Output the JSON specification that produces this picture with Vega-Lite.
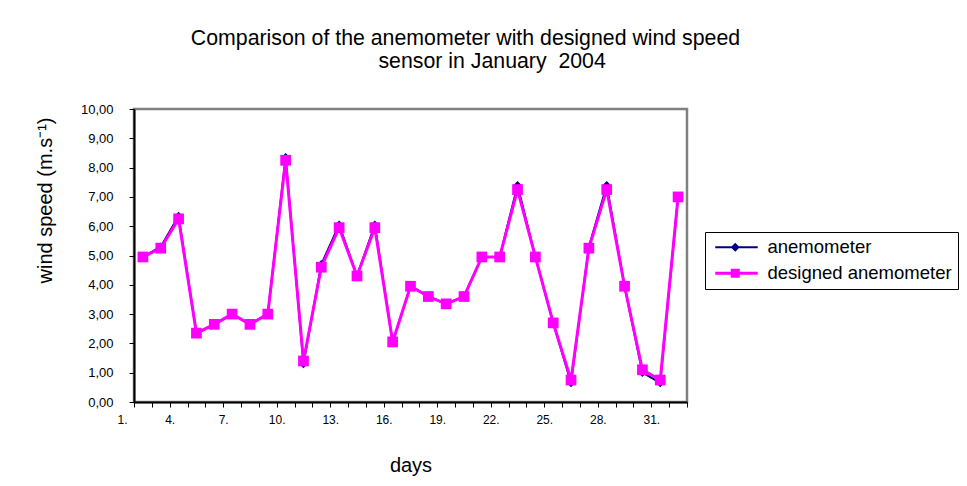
{
  "$schema": "https://vega.github.io/schema/vega-lite/v6.json",
  "width": 553,
  "height": 293,
  "autosize": "none",
  "padding": {"left": 134, "top": 109, "right": 280, "bottom": 84},
  "background": "white",
  "config": {
    "font": "Liberation Sans",
    "view": {"stroke": "#808080", "strokeWidth": 2.5},
    "axis": {"grid": false, "domainColor": "black", "domainWidth": 2, "tickColor": "black", "tickWidth": 1, "labelColor": "black", "titleColor": "black", "titleFontWeight": "normal", "titleFontSize": 20}
  },
  "title": {
    "text": ["Comparison of the anemometer with designed wind speed", "\u200b\u2002\u2002\u2002\u2002\u2002sensor in January\u00a0 2004"],
    "fontSize": 21.3,
    "fontWeight": "normal",
    "color": "black",
    "anchor": "middle",
    "frame": "group",
    "dx": 55,
    "dy": -27,
    "lineHeight": 23
  },
  "data": {
    "values": [
      {"day": 1, "series": "anemometer", "speed": 4.95},
      {"day": 2, "series": "anemometer", "speed": 5.3},
      {"day": 3, "series": "anemometer", "speed": 6.35},
      {"day": 4, "series": "anemometer", "speed": 2.35},
      {"day": 5, "series": "anemometer", "speed": 2.65},
      {"day": 6, "series": "anemometer", "speed": 3.0},
      {"day": 7, "series": "anemometer", "speed": 2.65},
      {"day": 8, "series": "anemometer", "speed": 3.0},
      {"day": 9, "series": "anemometer", "speed": 8.35},
      {"day": 10, "series": "anemometer", "speed": 1.3},
      {"day": 11, "series": "anemometer", "speed": 4.7},
      {"day": 12, "series": "anemometer", "speed": 6.05},
      {"day": 13, "series": "anemometer", "speed": 4.3},
      {"day": 14, "series": "anemometer", "speed": 6.05},
      {"day": 15, "series": "anemometer", "speed": 2.05},
      {"day": 16, "series": "anemometer", "speed": 3.95},
      {"day": 17, "series": "anemometer", "speed": 3.6},
      {"day": 18, "series": "anemometer", "speed": 3.35},
      {"day": 19, "series": "anemometer", "speed": 3.6},
      {"day": 20, "series": "anemometer", "speed": 4.95},
      {"day": 21, "series": "anemometer", "speed": 4.95},
      {"day": 22, "series": "anemometer", "speed": 7.4},
      {"day": 23, "series": "anemometer", "speed": 4.95},
      {"day": 24, "series": "anemometer", "speed": 2.7},
      {"day": 25, "series": "anemometer", "speed": 0.65},
      {"day": 26, "series": "anemometer", "speed": 5.3},
      {"day": 27, "series": "anemometer", "speed": 7.4},
      {"day": 28, "series": "anemometer", "speed": 3.95},
      {"day": 29, "series": "anemometer", "speed": 1.0},
      {"day": 30, "series": "anemometer", "speed": 0.65},
      {"day": 31, "series": "anemometer", "speed": 7.0},
      {"day": 1, "series": "designed anemometer", "speed": 4.95},
      {"day": 2, "series": "designed anemometer", "speed": 5.25},
      {"day": 3, "series": "designed anemometer", "speed": 6.25},
      {"day": 4, "series": "designed anemometer", "speed": 2.35},
      {"day": 5, "series": "designed anemometer", "speed": 2.65},
      {"day": 6, "series": "designed anemometer", "speed": 3.0},
      {"day": 7, "series": "designed anemometer", "speed": 2.65},
      {"day": 8, "series": "designed anemometer", "speed": 3.0},
      {"day": 9, "series": "designed anemometer", "speed": 8.25},
      {"day": 10, "series": "designed anemometer", "speed": 1.4},
      {"day": 11, "series": "designed anemometer", "speed": 4.6},
      {"day": 12, "series": "designed anemometer", "speed": 5.95},
      {"day": 13, "series": "designed anemometer", "speed": 4.3},
      {"day": 14, "series": "designed anemometer", "speed": 5.95},
      {"day": 15, "series": "designed anemometer", "speed": 2.05},
      {"day": 16, "series": "designed anemometer", "speed": 3.95},
      {"day": 17, "series": "designed anemometer", "speed": 3.6},
      {"day": 18, "series": "designed anemometer", "speed": 3.35},
      {"day": 19, "series": "designed anemometer", "speed": 3.6},
      {"day": 20, "series": "designed anemometer", "speed": 4.95},
      {"day": 21, "series": "designed anemometer", "speed": 4.95},
      {"day": 22, "series": "designed anemometer", "speed": 7.25},
      {"day": 23, "series": "designed anemometer", "speed": 4.95},
      {"day": 24, "series": "designed anemometer", "speed": 2.7},
      {"day": 25, "series": "designed anemometer", "speed": 0.75},
      {"day": 26, "series": "designed anemometer", "speed": 5.25},
      {"day": 27, "series": "designed anemometer", "speed": 7.25},
      {"day": 28, "series": "designed anemometer", "speed": 3.95},
      {"day": 29, "series": "designed anemometer", "speed": 1.1},
      {"day": 30, "series": "designed anemometer", "speed": 0.75},
      {"day": 31, "series": "designed anemometer", "speed": 7.0}
    ]
  },
  "encoding": {
    "x": {
      "field": "day",
      "type": "quantitative",
      "scale": {"domain": [0.5, 31.5], "nice": false, "zero": false},
      "axis": {
        "title": "days",
        "values": [0.5, 1.5, 2.5, 3.5, 4.5, 5.5, 6.5, 7.5, 8.5, 9.5, 10.5, 11.5, 12.5, 13.5, 14.5, 15.5, 16.5, 17.5, 18.5, 19.5, 20.5, 21.5, 22.5, 23.5, 24.5, 25.5, 26.5, 27.5, 28.5, 29.5, 30.5, 31.5],
        "labelExpr": "datum.value == 0.5 ? '1.' : ((datum.value + 0.5) % 3 == 0 ? (datum.value + 1.5) + '.' : '')",
        "labelOffset": {"condition": {"test": "datum.value == 0.5", "value": -12}, "value": 0},
        "labelFlush": false,
        "labelOverlap": false,
        "labelFontSize": 12,
        "labelPadding": 7,
        "tickSize": 5,
        "titleY": 63,
        "titleBaseline": "middle"
      }
    },
    "y": {
      "field": "speed",
      "type": "quantitative",
      "scale": {"domain": [0, 10], "nice": false},
      "axis": {
        "title": "wind speed (m.s\u207b\u00b9)",
        "values": [0, 1, 2, 3, 4, 5, 6, 7, 8, 9, 10],
        "labelExpr": "replace(format(datum.value, '.2f'), '.', ',')",
        "labelFontSize": 13,
        "labelPadding": 16,
        "tickSize": 5,
        "titleX": -89,
        "titleY": 91,
        "titleAlign": "center",
        "titleBaseline": "middle"
      }
    }
  },
  "layer": [
    {
      "transform": [{"filter": "datum.series == 'anemometer'"}],
      "mark": {"type": "line", "color": "#000080", "strokeWidth": 2}
    },
    {
      "transform": [{"filter": "datum.series == 'anemometer'"}],
      "mark": {"type": "point", "shape": "diamond", "filled": true, "opacity": 1, "color": "#000080", "size": 72}
    },
    {
      "transform": [{"filter": "datum.series == 'designed anemometer'"}],
      "mark": {"type": "line", "color": "#FF00FF", "strokeWidth": 3}
    },
    {
      "transform": [{"filter": "datum.series == 'designed anemometer'"}],
      "mark": {"type": "point", "shape": "square", "filled": true, "opacity": 1, "color": "#FF00FF", "size": 115}
    },
    {
      "transform": [{"filter": "datum.series == 'none'"}],
      "mark": {"type": "point", "filled": true, "opacity": 1},
      "encoding": {
        "color": {
          "field": "series",
          "type": "nominal",
          "scale": {"domain": ["anemometer", "designed anemometer"], "range": ["#000080", "#FF00FF"]},
          "legend": {"title": null, "orient": "none", "legendX": 571, "legendY": 123, "padding": 6, "strokeColor": "black", "fillColor": "white", "symbolSize": 100, "symbolStrokeWidth": 0, "symbolOpacity": 1, "labelOffset": 38, "labelFontSize": 18.5, "labelColor": "black", "labelLimit": 0, "rowPadding": 7}
        },
        "shape": {
          "field": "series",
          "type": "nominal",
          "scale": {"domain": ["anemometer", "designed anemometer"], "range": ["M-1,-0.2L7.5,-0.2L7.5,0.2L-1,0.2Z M3,-0.9L3.9,0L3,0.9L2.1,0Z", "M-1,-0.3L7.5,-0.3L7.5,0.3L-1,0.3Z M2.1,-0.9L3.9,-0.9L3.9,0.9L2.1,0.9Z"]},
          "legend": {"title": null, "orient": "none", "legendX": 571, "legendY": 123, "padding": 6, "strokeColor": "black", "fillColor": "white", "symbolSize": 100, "symbolStrokeWidth": 0, "symbolOpacity": 1, "labelOffset": 38, "labelFontSize": 18.5, "labelColor": "black", "labelLimit": 0, "rowPadding": 7}
        }
      }
    }
  ]
}
